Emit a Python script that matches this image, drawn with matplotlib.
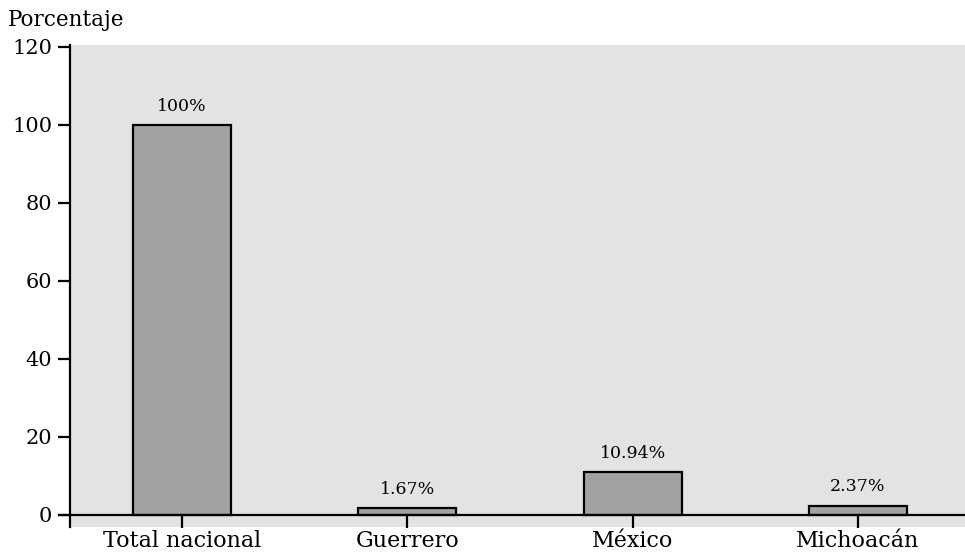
import matplotlib
matplotlib.use("Agg")
import matplotlib.pyplot as plt

categories = ["Total nacional", "Guerrero", "México", "Michoacán"]
values = [100, 1.67, 10.94, 2.37]
value_labels = ["100%", "1.67%", "10.94%", "2.37%"]
yticks = [0, 20, 40, 60, 80, 100, 120]

plt.rcParams['font.family'] = ['DejaVu Serif']

fig = plt.figure(figsize=(9.65, 5.54), dpi=100)
ax = fig.add_axes([0.073, 0.0487, 0.927, 0.87])
ax.set_facecolor('#e3e3e3')

x = list(range(len(categories)))
ax.bar(x, values, width=0.435, color='#a2a2a2', edgecolor='black', linewidth=1.6, zorder=3)
for xi, v, lab in zip(x, values, value_labels):
    ax.text(xi, v + 4.8, lab, ha='center', va='center', fontsize=12.5, zorder=4)

ax.set_xlim(-0.495, 3.475)
ax.set_ylim(-3.1, 120.5)
ax.set_yticks(yticks)
ax.set_xticks(x)
ax.set_xticklabels(categories)

for s in ['top', 'right']:
    ax.spines[s].set_visible(False)
ax.spines['bottom'].set_position(('data', 0))
ax.spines['bottom'].set_linewidth(1.6)
ax.spines['left'].set_linewidth(1.6)
ax.spines['bottom'].set_zorder(5)

ax.tick_params(axis='y', direction='out', length=9, width=1.6, labelsize=15, pad=4)
ax.tick_params(axis='x', direction='out', length=9, width=1.6, labelsize=16, pad=2)

# extend baseline left to the tick at zero
ax.plot([-0.495 - 0.05, -0.495], [0, 0], color='black', lw=1.6, clip_on=False, zorder=5)

fig.text(0.008, 0.963, "Porcentaje", fontsize=15.5, ha='left', va='center')

fig.savefig("out.png", dpi=100)
